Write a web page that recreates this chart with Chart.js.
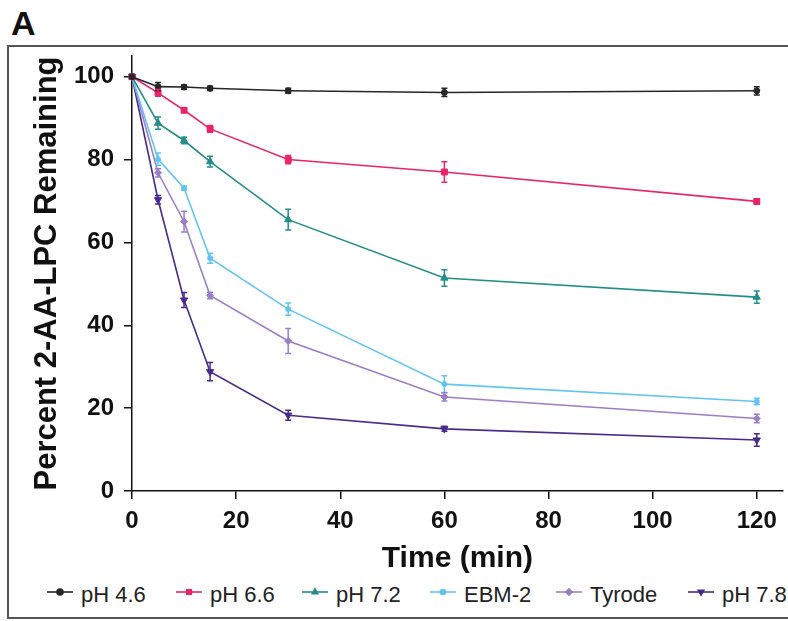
<!DOCTYPE html>
<html lang="en">
<head>
    <meta charset="UTF-8">
    <title>2-AA-LPC stability</title>
    <script src="https://cdn.jsdelivr.net/npm/chart.js@4"></script>
    <style>
        body {
            margin: 0;
            width: 788px;
            height: 621px;
            overflow: hidden;
            background: #fff;
            font-family: Arial, "Liberation Sans", sans-serif;
            position: relative;
        }

        .panel-letter {
            position: absolute;
            left: 11px;
            top: 6px;
            font-size: 34px;
            line-height: 34px;
            font-weight: bold;
            color: #111;
        }

        .frame {
            position: absolute;
            left: 7px;
            top: 45px;
            width: 820px;
            height: 570px;
            border: 2px solid #555;
        }

        .chart-box {
            position: absolute;
            left: 10px;
            top: 48px;
            width: 778px;
            height: 529px;
        }

        .legend-item {
            position: absolute;
            top: 582px;
            display: flex;
            align-items: center;
            font-size: 22px;
            line-height: 26px;
            color: #222;
            white-space: nowrap;
        }

        .legend-item canvas {
            margin-right: 8px;
            position: relative;
            top: -3px;
        }
    </style>
</head>
<body>
    <div class="panel-letter">A</div>
    <div class="frame"></div>
    <div class="chart-box"><canvas id="chart"></canvas></div>
    <div id="legend"></div>

    <script>
        // sampling times (min)
        const times = [0, 5, 10, 15, 30, 60, 120];

        const seriesNames = ['pH 4.6', 'pH 6.6', 'pH 7.2', 'EBM-2', 'Tyrode', 'pH 7.8'];

        // percent remaining
        const ph46 = [100, 97.6, 97.5, 97.2, 96.6, 96.2, 96.6];
        const ph66 = [100, 96.1, 91.9, 87.4, 80.0, 77.0, 69.9];
        const ph72 = [100, 88.8, 84.6, 79.5, 65.5, 51.4, 46.8];
        const ebm2 = [100, 80.1, 73.1, 56.2, 43.9, 25.8, 21.6];
        const tyrode = [100, 76.8, 65.0, 47.2, 36.2, 22.7, 17.5];
        const ph78 = [100, 70.3, 46.1, 28.8, 18.3, 15.0, 12.3];

        // error bar half heights
        const ph46Err = [0.6, 1.0, 0.5, 0.5, 0.6, 1.0, 1.0];
        const ph66Err = [0.5, 0.8, 0.5, 0.8, 1.0, 2.5, 0.6];
        const ph72Err = [0.5, 1.5, 0.8, 1.3, 2.5, 2.0, 1.5];
        const ebm2Err = [0.5, 1.5, 0.5, 1.2, 1.5, 2.0, 0.8];
        const tyrodeErr = [0.5, 1.0, 2.5, 0.8, 3.0, 1.0, 1.0];
        const ph78Err = [0.5, 1.0, 1.8, 2.2, 1.2, 0.6, 1.5];

        const yTicks = [0, 20, 40, 60, 80, 100];
        const xTicks = [0, 20, 40, 60, 80, 100, 120];

        const allValues = [ph46, ph66, ph72, ebm2, tyrode, ph78];
        const allErrors = [ph46Err, ph66Err, ph72Err, ebm2Err, tyrodeErr, ph78Err];

        const colors = ['#262626', '#ea2468', '#228d8a', '#62c4f2', '#9b7ec8', '#4a2b8c'];
        const markers = [
            { style: 'circle', radius: 3, rotation: 0 },
            { style: 'rect', radius: 4.2, rotation: 0 },
            { style: 'triangle', radius: 4.2, rotation: 0 },
            { style: 'circle', radius: 2.5, rotation: 0 },
            { style: 'rectRot', radius: 3.5, rotation: 0 },
            { style: 'triangle', radius: 4.2, rotation: 180 }
        ];

        const datasets = seriesNames.map((name, i) => ({
            label: name,
            data: times.map((t, k) => ({ x: t, y: allValues[i][k] })),
            borderColor: colors[i],
            backgroundColor: colors[i],
            borderWidth: 1.6,
            pointStyle: markers[i].style,
            pointRadius: markers[i].radius,
            pointRotation: markers[i].rotation,
            pointBorderWidth: 1,
            tension: 0,
            clip: false
        }));

        // vertical error bars with caps
        const errorBars = {
            id: 'errorBars',
            afterDatasetsDraw(chart) {
                const ctx = chart.ctx;
                const xs = chart.scales.x;
                const ys = chart.scales.y;
                chart.data.datasets.forEach((ds, di) => {
                    const errs = allErrors[di];
                    ctx.save();
                    ctx.strokeStyle = ds.borderColor;
                    ctx.lineWidth = 1.5;
                    ds.data.forEach((p, k) => {
                        const e = errs[k];
                        if (!e || p.x === 0) return;
                        const px = xs.getPixelForValue(p.x);
                        const top = ys.getPixelForValue(p.y + e);
                        const bot = ys.getPixelForValue(p.y - e);
                        ctx.beginPath();
                        ctx.moveTo(px, top);
                        ctx.lineTo(px, bot);
                        ctx.moveTo(px - 3, top);
                        ctx.lineTo(px + 3, top);
                        ctx.moveTo(px - 3, bot);
                        ctx.lineTo(px + 3, bot);
                        ctx.stroke();
                    });
                    ctx.restore();
                });
            }
        };

        const axisFont = { family: 'Arial, "Liberation Sans", sans-serif', size: 24, weight: 'bold' };
        const titleFont = { family: 'Arial, "Liberation Sans", sans-serif', size: 30, weight: 'bold' };

        new Chart(document.getElementById('chart'), {
            type: 'line',
            data: { datasets: datasets },
            plugins: [errorBars],
            options: {
                responsive: true,
                maintainAspectRatio: false,
                animation: false,
                layout: { padding: { top: 8, right: 3, left: 0, bottom: 0 } },
                plugins: {
                    legend: { display: false },
                    tooltip: { enabled: false }
                },
                scales: {
                    x: {
                        type: 'linear',
                        min: 0,
                        max: 125,
                        afterBuildTicks: s => { s.ticks = xTicks.map(v => ({ value: v })); },
                        afterFit: s => { s.height = 86; },
                        border: { color: '#111', width: 1.5 },
                        grid: { drawOnChartArea: false, drawTicks: true, tickLength: 8, color: '#111', lineWidth: 1.5 },
                        ticks: { padding: 8, color: '#111', font: axisFont, maxRotation: 0 },
                        title: { display: true, text: 'Time (min)', color: '#111', font: titleFont, padding: { top: 5, bottom: 0 } }
                    },
                    y: {
                        min: 0,
                        max: 105,
                        afterBuildTicks: s => { s.ticks = yTicks.map(v => ({ value: v })); },
                        afterFit: s => {
                            s.width = 122;
                            s.paddingTop = 0;
                            s.paddingBottom = 0;
                        },
                        border: { color: '#111', width: 1.5 },
                        grid: { drawOnChartArea: false, drawTicks: true, tickLength: 8, color: '#111', lineWidth: 1.5 },
                        ticks: { padding: 10, color: '#111', font: axisFont },
                        title: {
                            display: true,
                            text: 'Percent 2-AA-LPC Remaining',
                            color: '#111',
                            font: { family: titleFont.family, size: 31, weight: 'bold' },
                            padding: { top: 19, bottom: 0 }
                        }
                    }
                }
            }
        });

        // legend row under the chart: short line with the marker in the middle
        const legendLeft = [47, 176, 302, 430, 556, 688];
        const legend = document.getElementById('legend');
        seriesNames.forEach((name, i) => {
            const item = document.createElement('div');
            item.className = 'legend-item';
            item.style.left = legendLeft[i] + 'px';
            const c = document.createElement('canvas');
            c.width = 26;
            c.height = 12;
            const g = c.getContext('2d');
            g.strokeStyle = colors[i];
            g.lineWidth = 1.6;
            g.beginPath();
            g.moveTo(0, 6);
            g.lineTo(26, 6);
            g.stroke();
            g.fillStyle = colors[i];
            if (Chart.helpers && Chart.helpers.drawPoint) {
                Chart.helpers.drawPoint(g, {
                    pointStyle: markers[i].style,
                    radius: Math.min(markers[i].radius, 3.2),
                    rotation: markers[i].rotation,
                    borderWidth: 1
                }, 13, 6);
            } else {
                g.beginPath();
                g.arc(13, 6, 2.5, 0, Math.PI * 2);
                g.fill();
            }
            item.appendChild(c);
            const label = document.createElement('span');
            label.textContent = name;
            item.appendChild(label);
            legend.appendChild(item);
        });
    </script>
</body>
</html>
